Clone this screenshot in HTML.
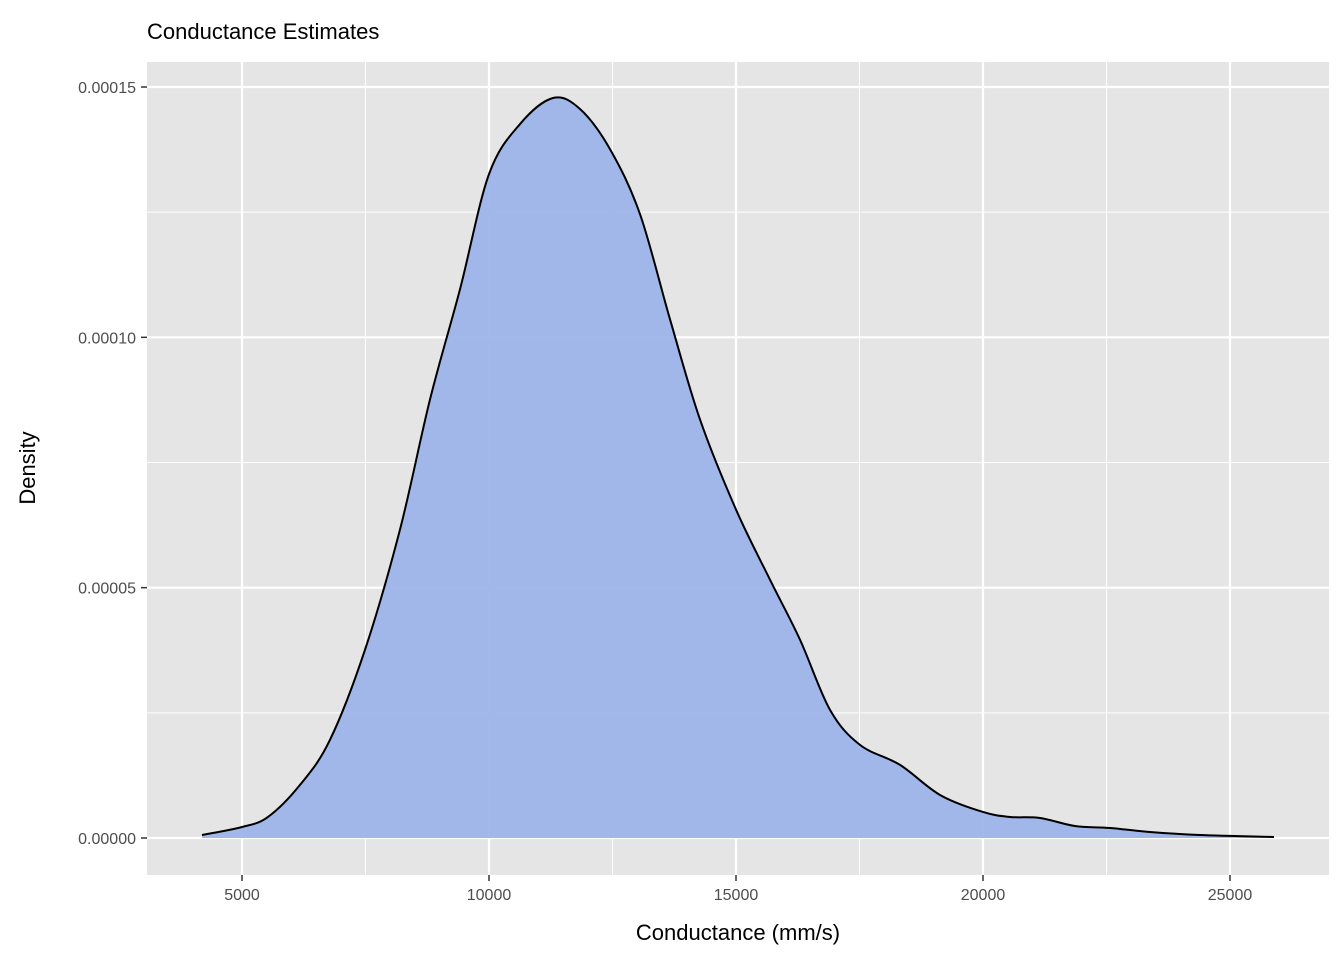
<!DOCTYPE html>
<html><head><meta charset="utf-8"><style>
body{margin:0;background:#fff;font-family:"Liberation Sans",Arial,sans-serif}
</style></head><body>
<svg id="chart" width="1344" height="960" xmlns="http://www.w3.org/2000/svg">
<text x="147" y="39" font-size="22" fill="#000">Conductance Estimates</text>
<rect x="147" y="62" width="1182" height="813" fill="#e5e5e5"/>
<g id="grid"></g>
<path id="area" fill="#9db4ea" fill-opacity="0.95" stroke="none"/>
<path id="line" fill="none" stroke="#000" stroke-width="2"/>
<g id="axes"></g>
<text x="738" y="940" font-size="22" text-anchor="middle" fill="#000">Conductance (mm/s)</text>
<text transform="translate(35,468) rotate(-90)" font-size="22" text-anchor="middle" fill="#000">Density</text>
</svg>
<script>
const xs=[4190,5000,5526,6174,6781,7490,8198,8806,9413,10000,10628,11296,11842,12449,13057,13664,14271,15000,15688,16296,16903,17510,18320,19130,20000,20547,21154,21862,22571,23381,24393,25891];
const dens=[0.0000006,0.0000022,0.0000042,0.0000106,0.0000196,0.0000376,0.0000616,0.0000876,0.0001096,0.0001326,0.0001426,0.0001478,0.0001456,0.0001376,0.0001246,0.0001036,0.0000836,0.0000656,0.0000516,0.0000396,0.0000256,0.0000186,0.0000146,0.0000086,0.0000052,0.0000042,0.0000040,0.0000024,0.0000020,0.0000012,0.0000006,0.0000002];
const xTicks=[5000,10000,15000,20000,25000];
const xMinor=[7500,12500,17500,22500];
const yTicks=[0,0.00005,0.0001,0.00015];
const yTickLabels=["0.00000","0.00005","0.00010","0.00015"];
const yMinor=[0.000025,0.000075,0.000125];
const X=v=>242+(v-5000)*0.0494;
const Y=v=>838-v/0.00015*751;
const NS="http://www.w3.org/2000/svg";
const grid=document.getElementById('grid'),axes=document.getElementById('axes');
function ln(p,x1,y1,x2,y2,c,w){const l=document.createElementNS(NS,'line');l.setAttribute('x1',x1);l.setAttribute('y1',y1);l.setAttribute('x2',x2);l.setAttribute('y2',y2);l.setAttribute('stroke',c);l.setAttribute('stroke-width',w);p.appendChild(l);return l;}
function tx(p,x,y,s,a){const t=document.createElementNS(NS,'text');t.setAttribute('x',x);t.setAttribute('y',y);t.setAttribute('font-size','16');t.setAttribute('fill','#4d4d4d');t.setAttribute('text-anchor',a);t.textContent=s;p.appendChild(t);return t;}
xMinor.forEach(v=>{const l=ln(grid,X(v),62,X(v),875,'#fff',1);

});
yMinor.forEach(v=>{const l=ln(grid,147,Y(v),1329,Y(v),'#fff',1);

});
xTicks.forEach(v=>{const l=ln(grid,X(v),62,X(v),875,'#fff',2.2);


ln(axes,X(v),875,X(v),881,'#333',1.5);
const t=tx(axes,X(v),900,String(v),'middle');

});
yTicks.forEach((v,i)=>{const l=ln(grid,147,Y(v),1329,Y(v),'#fff',2.2);


ln(axes,141,Y(v),147,Y(v),'#333',1.5);
const t=tx(axes,136,Y(v)+6,yTickLabels[i],'end');

});
const pts=xs.map((v,i)=>[X(v),Y(dens[i])]);
let d=`M${pts[0][0]},${pts[0][1]}`;
for(let i=0;i<pts.length-1;i++){const p0=pts[Math.max(0,i-1)],p1=pts[i],p2=pts[i+1],p3=pts[Math.min(pts.length-1,i+2)];
d+=` C${p1[0]+(p2[0]-p0[0])/6},${p1[1]+(p2[1]-p0[1])/6} ${p2[0]-(p3[0]-p1[0])/6},${p2[1]-(p3[1]-p1[1])/6} ${p2[0]},${p2[1]}`;}
document.getElementById('line').setAttribute('d',d);
document.getElementById('area').setAttribute('d',d+` L${pts[pts.length-1][0]},${Y(0)} L${pts[0][0]},${Y(0)} Z`);
</script>
</body></html>
